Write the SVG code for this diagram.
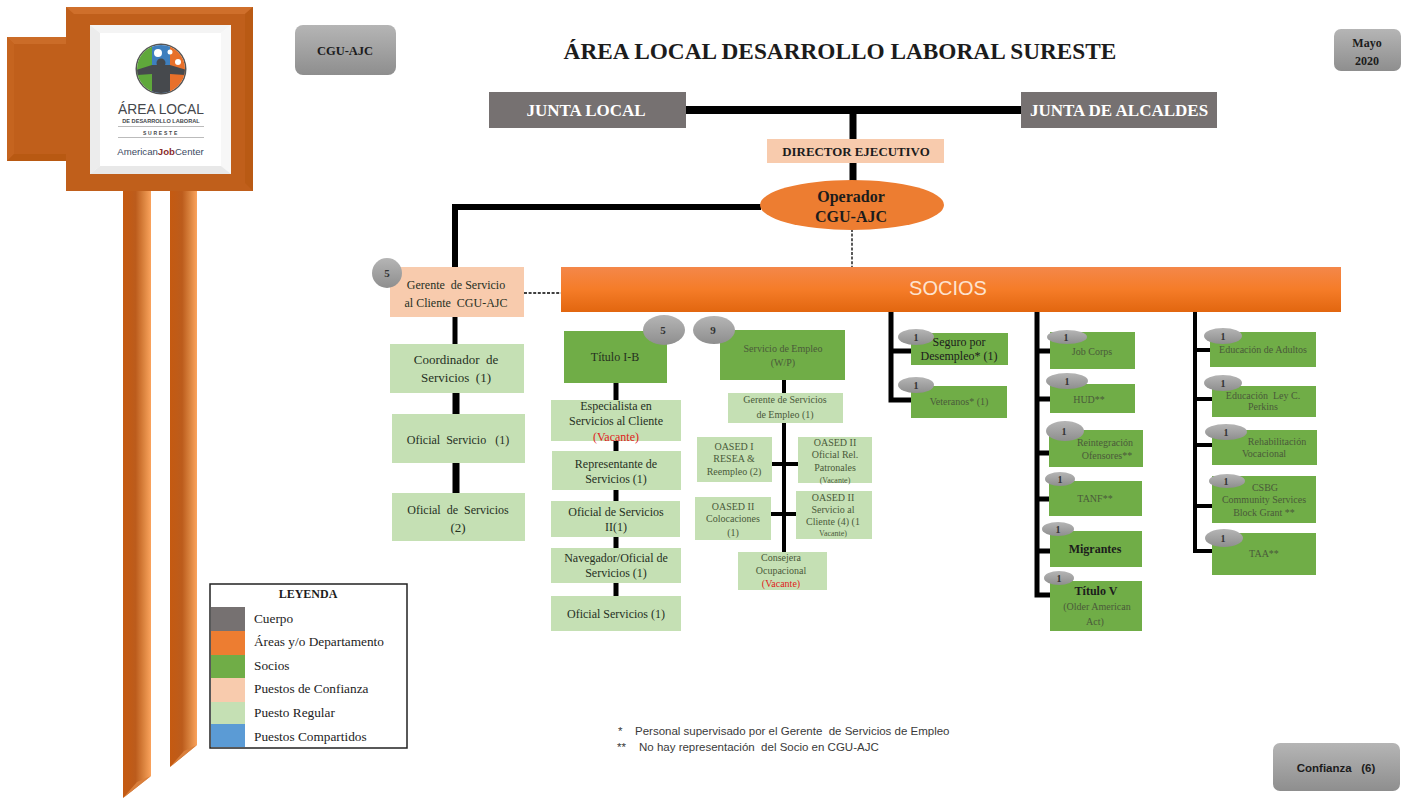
<svg xmlns="http://www.w3.org/2000/svg" width="1406" height="798" viewBox="0 0 1406 798">
<style>
text{font-family:"Liberation Serif","DejaVu Serif",serif;text-anchor:middle;fill:#26301f;white-space:pre}
.bk{fill:#1c1c1c}
.b{font-weight:bold}
.f11{font-size:11px}.f12{font-size:12px}.f13{font-size:13px}.f10{font-size:10px}
.soft{fill:#4a5a3a;font-size:10px}
.l{text-anchor:start;font-size:13.300px;fill:#1c1c1c}
.s{font-family:"Liberation Sans",Arial,sans-serif}
.fn{font-family:"Liberation Sans",Arial,sans-serif;text-anchor:start;font-size:11.500px;fill:#3a3a3a}
.peach{fill:#F8CBAD}.reg{fill:#C5E0B4}.soc{fill:#70AD47}.body{fill:#767171}
.badge{fill:url(#gb)}
.wire{fill:none;stroke:#000}
.dash{fill:none;stroke:#000;stroke-width:1.300;stroke-dasharray:3 1.600}
</style>
<defs>
<linearGradient id="gb" x1="0" y1="0" x2="0" y2="1"><stop offset="0" stop-color="#b5b5b5"/><stop offset="1" stop-color="#8e8e8e"/></linearGradient>
<linearGradient id="gor" x1="0" y1="0" x2="0" y2="1"><stop offset="0" stop-color="#F4874A"/><stop offset=".5" stop-color="#F57C28"/><stop offset="1" stop-color="#E2660F"/></linearGradient>
<linearGradient id="pole" x1="0" y1="0" x2="1" y2="0"><stop offset="0" stop-color="#C55A11"/><stop offset=".45" stop-color="#BC5C1C"/><stop offset=".75" stop-color="#DB843F"/><stop offset="1" stop-color="#FBA35C"/></linearGradient>
<clipPath id="lc"><circle cx="161" cy="69" r="24"/></clipPath>
</defs>

<g id="banner">
<polygon points="123,191 151,191 151,776 123,798" fill="url(#pole)"/>
<polygon points="123,798 137,782 151,776" fill="#D97F3C"/>
<polygon points="170,191 197,191 197,745 170,767" fill="url(#pole)"/>
<polygon points="170,767 184,751 197,745" fill="#D97F3C"/>
<rect x="7" y="37" width="75" height="124" fill="#C05F1B"/>
<polygon points="7,37 66,37 76,44 14,44" fill="#CB6C28"/>
<polygon points="7,37 14,44 14,154 7,161" fill="#C5641F"/>
<polygon points="7,161 14,154 76,154 66,161" fill="#B85912"/>
<rect x="66" y="7" width="187" height="184" fill="#C05F1B"/>
<polygon points="66,7 253,7 245,14 74,14" fill="#CF6F2B"/>
<polygon points="253,7 253,191 245,183 245,14" fill="#B95A14"/>
<rect x="90" y="25" width="141" height="149" fill="#fff"/>
<polygon points="90,25 231,25 221,33 100,33" fill="#f4f4f4"/>
<polygon points="90,25 100,33 100,166 90,174" fill="#ececec"/>
<polygon points="231,25 231,174 221,166 221,33" fill="#f7f7f7"/>
<polygon points="90,174 100,166 221,166 231,174" fill="#e8e8e8"/>
</g>

<g id="logo">
<circle cx="161" cy="69" r="25.500" fill="#555"/>
<g clip-path="url(#lc)">
<rect x="135" y="45" width="52" height="48" fill="#fff"/>
<rect x="136" y="45" width="16" height="30" fill="#5FA83B"/>
<rect x="152" y="45" width="18" height="26" fill="#3E7FBE"/>
<rect x="170" y="45" width="17" height="30" fill="#E8702A"/>
<rect x="136" y="74" width="16" height="20" fill="#5FA83B"/>
<rect x="152" y="74" width="18" height="20" fill="#3E7FBE"/>
<rect x="170" y="74" width="17" height="20" fill="#E8702A"/>
<circle cx="158" cy="53" r="4" fill="#fff"/>
<circle cx="170" cy="52" r="2.500" fill="#fff"/>
<circle cx="178" cy="62" r="3" fill="#fff"/>
<path d="M136 70 L152 65 H170 L187 70 V75 L170 74 V94 H152 V74 L136 75Z" fill="#46494d"/>
<circle cx="161" cy="63" r="4.500" fill="#46494d"/>
</g>
<text class="s" x="161" y="114" font-size="13.800" style="fill:#45484c">ÁREA LOCAL</text>
<text class="s b" x="161" y="122.500" font-size="5.600" style="fill:#45484c">DE DESARROLLO LABORAL</text>
<rect x="118" y="126" width="86" height="1" fill="#bbb"/>
<text class="s b" x="161" y="134.500" font-size="5" letter-spacing="1.800" style="fill:#45484c">SURESTE</text>
<rect x="118" y="137" width="86" height="1" fill="#bbb"/>
<text class="s" x="160.500" y="155" font-size="9.600" style="fill:#3b4a5f">American<tspan font-weight="bold" fill="#8a2b2b">Job</tspan>Center</text>
</g>

<g id="connectors">
<path class="wire" stroke-width="8" d="M686 110H1021"/>
<path class="wire" stroke-width="7" d="M853 110V139M853 163V184"/>
<path class="wire" stroke-width="6" d="M761 207H455V267"/>
<path class="dash" d="M852 229V267M524 293H561"/>
<path class="wire" stroke-width="5" d="M455 317V344"/>
<path class="wire" stroke-width="7" d="M456 393V414M456 463V493"/>
<path class="wire" stroke-width="5" d="M616 383V596"/>
<path class="wire" stroke-width="4" d="M784 380V552M772 464H798M771 514H796"/>
<path class="wire" stroke-width="5" d="M891 312V400H911M891 351H911"/>
<path class="wire" stroke-width="5" d="M1037 312V595H1050M1037 351H1050M1037 399H1050M1037 453H1049M1037 499H1049M1037 551H1050"/>
<path class="wire" stroke-width="4" d="M1195 312V551H1212M1195 350H1210M1195 399H1212M1195 445H1212M1195 506H1212"/>
</g>

<g id="n-cgu"><rect x="295" y="25" width="101" height="50" rx="8" class="badge"/><text class="bk b" x="345" y="55" font-size="12.500">CGU-AJC</text></g>
<g id="n-title"><text class="bk b" x="840" y="59" font-size="23.300">ÁREA LOCAL DESARROLLO LABORAL SURESTE</text></g>
<g id="n-mayo"><rect x="1334" y="29" width="67" height="42" rx="7" class="badge"/><text class="bk b f12" x="1367" y="47">Mayo</text><text class="bk b f12" x="1367" y="65">2020</text></g>

<g id="n-junta-local"><rect x="489" y="92" width="197" height="36" class="body"/><text class="b" x="586" y="116" font-size="17" style="fill:#fff">JUNTA LOCAL</text></g>
<g id="n-junta-alcaldes"><rect x="1021" y="92" width="196" height="36" class="body"/><text class="b" x="1119" y="116" font-size="17" style="fill:#fff">JUNTA DE ALCALDES</text></g>
<g id="n-director"><rect x="767" y="139" width="177" height="24" class="peach"/><text class="bk b" x="856" y="156" font-size="12.900">DIRECTOR EJECUTIVO</text></g>
<g id="n-operador"><ellipse cx="852" cy="205" rx="92" ry="25" fill="#ED7D31"/><text class="bk b" x="851" y="202" font-size="16">Operador</text><text class="bk b" x="851" y="222" font-size="16">CGU-AJC</text></g>
<g id="n-socios"><rect x="561" y="267" width="780" height="45" fill="url(#gor)"/><text class="s" x="948" y="295" font-size="20" style="fill:#fde3cf">SOCIOS</text></g>

<g id="n-gerente"><rect x="390" y="267" width="134" height="50" class="peach"/><circle cx="387" cy="273" r="15" class="badge"/><text class="b f11" x="387" y="277" style="fill:#333">5</text><text class="f12" x="456" y="289">Gerente  de Servicio</text><text class="f12" x="456" y="307">al Cliente  CGU-AJC</text></g>
<g id="n-coordinador"><rect x="390" y="344" width="134" height="49" class="reg"/><text class="f13" x="456" y="364">Coordinador  de</text><text class="f13" x="456" y="382">Servicios  (1)</text></g>
<g id="n-oficial-servicio"><rect x="392" y="414" width="133" height="49" class="reg"/><text class="f12" x="458" y="444">Oficial  Servicio   (1)</text></g>
<g id="n-oficial-servicios"><rect x="392" y="493" width="133" height="48" class="reg"/><text class="f12" x="458" y="514">Oficial  de  Servicios</text><text class="f13" x="458" y="532">(2)</text></g>

<g id="n-titulo-ib"><rect x="564" y="331" width="103" height="52" class="soc"/><text class="f12" x="615" y="361">Título I-B</text><ellipse cx="664" cy="330" rx="21" ry="15" class="badge"/><text class="b f11" x="663" y="334" style="fill:#333">5</text></g>
<g id="n-especialista"><rect x="551" y="400" width="130" height="41" class="reg"/><text class="f12" x="616" y="410">Especialista en</text><text class="f12" x="616" y="425">Servicios al Cliente</text><text class="f12" x="616" y="441" style="fill:#e02020">(Vacante)</text></g>
<g id="n-representante"><rect x="552" y="451" width="129" height="39" class="reg"/><text class="f12" x="616" y="468">Representante de</text><text class="f12" x="616" y="483">Servicios (1)</text></g>
<g id="n-oficial-ii"><rect x="551" y="501" width="129" height="36" class="reg"/><text class="f12" x="616" y="516">Oficial de Servicios</text><text class="f12" x="616" y="531">II(1)</text></g>
<g id="n-navegador"><rect x="551" y="548" width="130" height="35" class="reg"/><text class="f12" x="616" y="562">Navegador/Oficial de</text><text class="f12" x="616" y="577">Servicios (1)</text></g>
<g id="n-oficial-s1"><rect x="551" y="596" width="130" height="35" class="reg"/><text class="f12" x="616" y="618">Oficial Servicios (1)</text></g>

<g id="n-empleo"><rect x="720" y="330" width="125" height="50" class="soc"/><text class="soft" x="783" y="352">Servicio de Empleo</text><text class="soft" x="783" y="366">(W/P)</text><ellipse cx="714" cy="330" rx="21" ry="14" class="badge"/><text class="b f11" x="713" y="334" style="fill:#333">9</text></g>
<g id="n-gerente-empleo"><rect x="728" y="393" width="115" height="30" class="reg"/><text class="soft" x="785" y="403">Gerente de Servicios</text><text class="soft" x="785" y="418">de Empleo (1)</text></g>
<g id="n-oased-i"><rect x="697" y="437" width="75" height="45" class="reg"/><text class="soft" x="734" y="450">OASED I</text><text class="soft" x="734" y="462">RESEA &amp;</text><text class="soft" x="734" y="475">Reempleo (2)</text></g>
<g id="n-oased-rel"><rect x="798" y="437" width="74" height="46" class="reg"/><text class="soft" x="835" y="446">OASED II</text><text class="soft" x="835" y="458">Oficial Rel.</text><text class="soft" x="835" y="471">Patronales</text><text class="soft" x="835" y="483" style="font-size:8px">(Vacante)</text></g>
<g id="n-oased-col"><rect x="695" y="497" width="76" height="43" class="reg"/><text class="soft" x="733" y="510">OASED II</text><text class="soft" x="733" y="522">Colocaciones</text><text class="soft" x="733" y="536">(1)</text></g>
<g id="n-oased-serv"><rect x="796" y="491" width="76" height="48" class="reg"/><text class="soft" x="833" y="501">OASED II</text><text class="soft" x="833" y="513">Servicio al</text><text class="soft" x="833" y="525">Cliente (4) (1</text><text class="soft" x="833" y="536" style="font-size:8px">Vacante)</text></g>
<g id="n-consejera"><rect x="738" y="552" width="89" height="38" class="reg"/><text class="soft" x="781" y="561">Consejera</text><text class="soft" x="781" y="574">Ocupacional</text><text class="soft" x="781" y="587" style="fill:#e02020">(Vacante)</text></g>

<g id="n-seguro"><rect x="911" y="333" width="97" height="32" class="soc"/><ellipse cx="916" cy="337" rx="18" ry="8" class="badge"/><text class="b f10" x="916" y="341" style="fill:#333">1</text><text class="bk f12" x="959" y="346">Seguro por</text><text class="bk f12" x="959" y="360">Desempleo* (1)</text></g>
<g id="n-veteranos"><rect x="911" y="386" width="96" height="32" class="soc"/><ellipse cx="916" cy="385" rx="18" ry="8" class="badge"/><text class="b f10" x="916" y="389" style="fill:#333">1</text><text class="soft" x="959" y="405">Veteranos* (1)</text></g>

<g id="n-job"><rect x="1050" y="332" width="85" height="37" class="soc"/><ellipse cx="1067" cy="337" rx="20" ry="7" class="badge"/><text class="b f10" x="1066" y="341" style="fill:#333">1</text><text class="soft" x="1092" y="355">Job Corps</text></g>
<g id="n-hud"><rect x="1050" y="384" width="85" height="29" class="soc"/><ellipse cx="1067" cy="381" rx="21" ry="8" class="badge"/><text class="b f10" x="1067" y="385" style="fill:#333">1</text><text class="soft" x="1089" y="403">HUD**</text></g>
<g id="n-reintegracion"><rect x="1049" y="430" width="94" height="37" class="soc"/><ellipse cx="1065" cy="431" rx="19" ry="10" class="badge"/><text class="b f10" x="1064" y="435" style="fill:#333">1</text><text class="soft" x="1105" y="446">Reintegración</text><text class="soft" x="1107" y="459">Ofensores**</text></g>
<g id="n-tanf"><rect x="1049" y="481" width="93" height="35" class="soc"/><ellipse cx="1060" cy="479" rx="15" ry="7" class="badge"/><text class="b f10" x="1060" y="483" style="fill:#333">1</text><text class="soft" x="1095" y="502">TANF**</text></g>
<g id="n-migrantes"><rect x="1050" y="531" width="92" height="36" class="soc"/><ellipse cx="1058" cy="529" rx="16" ry="7" class="badge"/><text class="b f10" x="1058" y="533" style="fill:#333">1</text><text class="bk b f12" x="1095" y="553">Migrantes</text></g>
<g id="n-titulo-v"><rect x="1050" y="581" width="92" height="50" class="soc"/><ellipse cx="1059" cy="578" rx="15" ry="7" class="badge"/><text class="b f10" x="1059" y="582" style="fill:#333">1</text><text class="bk b f12" x="1096" y="595">Título V</text><text class="soft" x="1097" y="610">(Older American</text><text class="soft" x="1095" y="625">Act)</text></g>

<g id="n-adultos"><rect x="1210" y="332" width="106" height="35" class="soc"/><ellipse cx="1223" cy="336" rx="19" ry="8" class="badge"/><text class="b f10" x="1223" y="340" style="fill:#333">1</text><text class="soft" x="1263" y="353">Educación de Adultos</text></g>
<g id="n-perkins"><rect x="1212" y="386" width="104" height="31" class="soc"/><ellipse cx="1223" cy="383" rx="19" ry="8" class="badge"/><text class="b f10" x="1223" y="387" style="fill:#333">1</text><text class="soft" x="1263" y="399">Educación  Ley C.</text><text class="soft" x="1263" y="410">Perkins</text></g>
<g id="n-rehab"><rect x="1212" y="430" width="105" height="35" class="soc"/><ellipse cx="1226" cy="432" rx="21" ry="8" class="badge"/><text class="b f10" x="1226" y="436" style="fill:#333">1</text><text class="soft" x="1277" y="445">Rehabilitación</text><text class="soft" x="1264" y="457">Vocacional</text></g>
<g id="n-csbg"><rect x="1212" y="476" width="104" height="47" class="soc"/><ellipse cx="1227" cy="481" rx="18" ry="7" class="badge"/><text class="b f10" x="1226" y="485" style="fill:#333">1</text><text class="soft" x="1265" y="491">CSBG</text><text class="soft" x="1264" y="503">Community Services</text><text class="soft" x="1264" y="516">Block Grant **</text></g>
<g id="n-taa"><rect x="1212" y="533" width="104" height="42" class="soc"/><ellipse cx="1224" cy="538" rx="19" ry="9" class="badge"/><text class="b f10" x="1223" y="542" style="fill:#333">1</text><text class="soft" x="1264" y="557">TAA**</text></g>

<g id="legend">
<rect x="210" y="584" width="197" height="164" fill="#fff" stroke="#222" stroke-width="1.500"/>
<text class="bk b f12" x="308" y="598">LEYENDA</text>
<rect x="211" y="607" width="34" height="24" class="body"/>
<rect x="211" y="631" width="34" height="24" fill="#ED7D31"/>
<rect x="211" y="655" width="34" height="23" class="soc"/>
<rect x="211" y="678" width="34" height="24" class="peach"/>
<rect x="211" y="702" width="34" height="22" class="reg"/>
<rect x="211" y="724" width="34" height="23" fill="#5B9BD5"/>
<text class="l" x="254" y="623">Cuerpo</text>
<text class="l" x="254" y="646">Áreas y/o Departamento</text>
<text class="l" x="254" y="670">Socios</text>
<text class="l" x="254" y="693">Puestos de Confianza</text>
<text class="l" x="254" y="717">Puesto Regular</text>
<text class="l" x="254" y="741">Puestos Compartidos</text>
</g>

<g id="notes">
<text class="fn" x="618" y="735">*</text>
<text class="fn" x="635" y="735">Personal supervisado por el Gerente  de Servicios de Empleo</text>
<text class="fn" x="617" y="751">**</text>
<text class="fn" x="639" y="751">No hay representación  del Socio en CGU-AJC</text>
</g>
<g id="n-confianza"><rect x="1273" y="743" width="127" height="48" rx="7" class="badge"/><text class="s b bk" x="1336" y="772" font-size="11.500">Confianza   (6)</text></g>
</svg>
